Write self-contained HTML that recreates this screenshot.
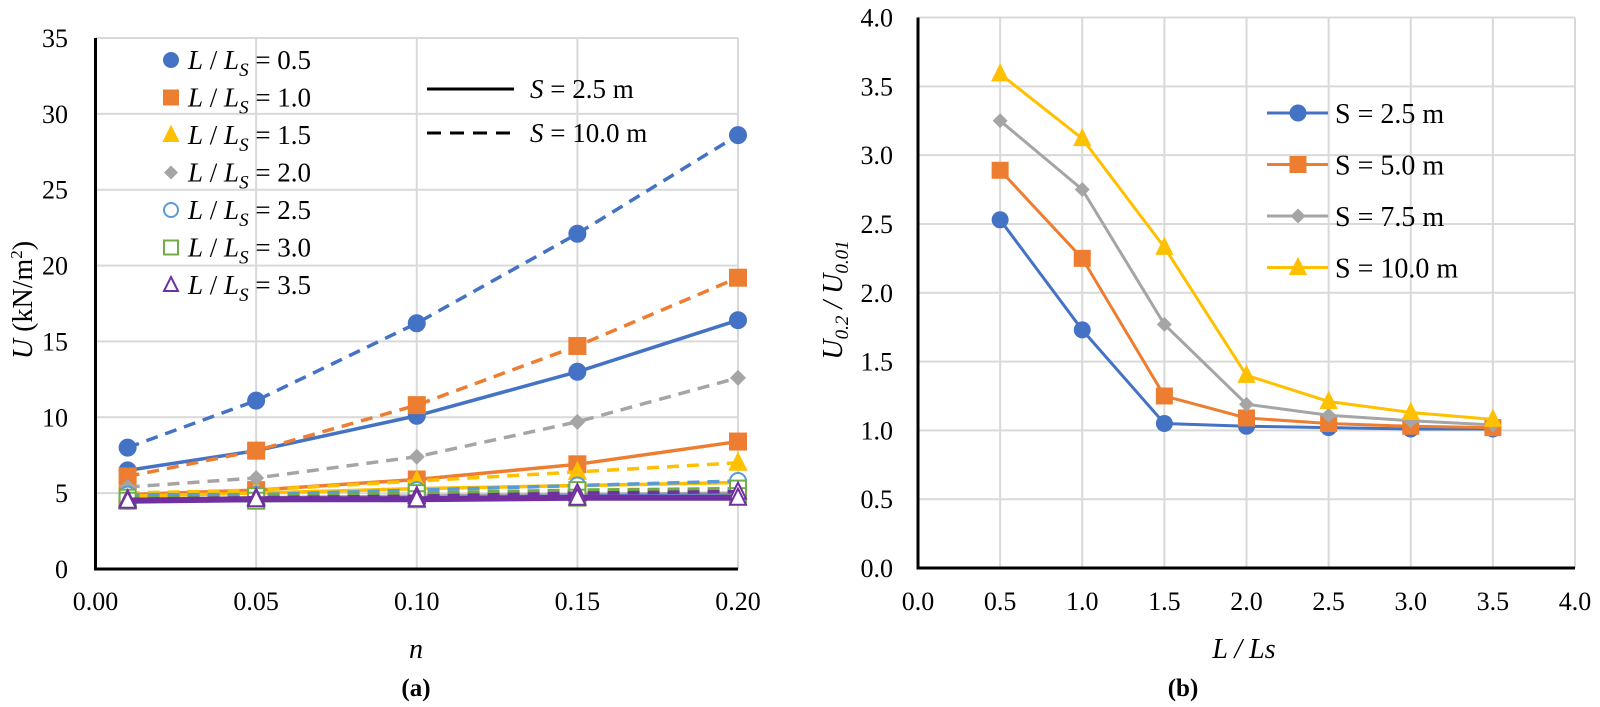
<!DOCTYPE html>
<html><head><meta charset="utf-8"><style>
body{margin:0;background:#fff}
svg,svg text{font-family:"Liberation Serif","Times New Roman",Times,serif;fill:#000}
</style></head><body>
<svg id="c" width="1600" height="702" viewBox="0 0 1600 702" xmlns="http://www.w3.org/2000/svg" font-family="Liberation Serif, Times New Roman, serif"></svg>
<script>
// ---- Chart (a) data ----
const nVals=[0.01,0.05,0.10,0.15,0.20];
const ratioLabels=["0.5","1.0","1.5","2.0","2.5","3.0","3.5"];
const aSolid=[[6.5,7.8,10.1,13.0,16.4],[4.9,5.2,5.9,6.9,8.4],[4.8,5.0,5.3,5.5,5.7],[4.6,4.7,4.8,4.9,5.0],[4.5,4.6,4.7,4.8,4.9],[4.5,4.5,4.6,4.7,4.8],[4.5,4.6,4.6,4.7,4.7]];
const aDashed=[[8.0,11.1,16.2,22.1,28.6],[6.1,7.8,10.8,14.7,19.2],[5.0,5.2,5.8,6.4,7.0],[5.4,6.0,7.4,9.7,12.6],[4.9,4.9,5.2,5.5,5.8],[4.7,4.8,5.0,5.2,5.3],[4.6,4.7,4.8,5.0,5.1]];
const aYTicks=[0,5,10,15,20,25,30,35];
const aXTicks=["0.00","0.05","0.10","0.15","0.20"];
// ---- Chart (b) data ----
const bX=[0.5,1.0,1.5,2.0,2.5,3.0,3.5];
const bNames=["S = 2.5 m","S = 5.0 m","S = 7.5 m","S = 10.0 m"];
const bS1=[2.53,1.73,1.05,1.03,1.02,1.01,1.01];
const bS2=[2.89,2.25,1.25,1.09,1.05,1.03,1.02];
const bS3=[3.25,2.75,1.77,1.19,1.11,1.07,1.04];
const bS4=[3.59,3.12,2.33,1.40,1.21,1.13,1.08];
const bYTicks=["0.0","0.5","1.0","1.5","2.0","2.5","3.0","3.5","4.0"];
const bXTicks=["0.0","0.5","1.0","1.5","2.0","2.5","3.0","3.5","4.0"];

const NS="http://www.w3.org/2000/svg",svg=document.getElementById('c');
const FF="Liberation Serif, Times New Roman, serif";
function el(t,a,p){const e=document.createElementNS(NS,t);for(const k in a)e.setAttribute(k,a[k]);if(t==='text')e.setAttribute('font-family',FF);(p||svg).appendChild(e);return e;}
const colorsA=["#4472c4","#ed7d31","#ffc000","#a5a5a5","#5b9bd5","#70ad47","#7030a0"];
const shapesA=["circle","square","triangle","diamond","ocircle","osquare","otriangle"];
function marker(g,shape,x,y,c,s){
  s=s||7;let e;
  if(shape==="circle"||shape==="ocircle"){e=el('circle',{cx:x,cy:y,r:s,fill:shape==="circle"?c:"#fff",stroke:c,'stroke-width':2},g);}
  else if(shape==="square"||shape==="osquare"){e=el('rect',{x:x-s,y:y-s,width:2*s,height:2*s,fill:shape==="square"?c:"#fff",stroke:c,'stroke-width':2},g);}
  else if(shape==="triangle"||shape==="otriangle"){e=el('polygon',{points:`${x},${y-s-1} ${x+s},${y+s-1} ${x-s},${y+s-1}`,fill:shape==="triangle"?c:"#fff",stroke:c,'stroke-width':2},g);}
  else {e=el('polygon',{points:`${x},${y-s} ${x+s},${y} ${x},${y+s} ${x-s},${y}`,fill:c},g);}
  
  
  return e;
}
function txt(g,x,y,s,o){const t=el('text',Object.assign({x:x,y:y,'font-size':26},o||{}),g);t.textContent=s;return t;}

// ===== Chart (a) =====
const aL=95.5,aR=738,aT=38,aB=569;
const ax=v=>aL+(v/0.20)*(aR-aL), ay=v=>aB-(v/35)*(aB-aT);
const ga=el('g',{});
aYTicks.forEach(v=>{el('line',{x1:aL,x2:aR,y1:ay(v),y2:ay(v),stroke:'#d9d9d9','stroke-width':2},ga);
  const t=txt(ga,68,ay(v)+9,String(v),{'text-anchor':'end'});});
aXTicks.forEach(s=>{const v=parseFloat(s);el('line',{x1:ax(v),x2:ax(v),y1:aT,y2:aB,stroke:'#d9d9d9','stroke-width':2},ga);
  const t=txt(ga,ax(v),610,s,{'text-anchor':'middle'});});
for(let i=0;i<aSolid.length;i++){
  const c=colorsA[i];
  const dp=aDashed[i].map((v,j)=>ax(nVals[j])+','+ay(v)).join(' ');
  const d=el('polyline',{points:dp,fill:'none',stroke:c,'stroke-width':3.5,'stroke-dasharray':'12 8'},ga);
  
  const sp=aSolid[i].map((v,j)=>ax(nVals[j])+','+ay(v)).join(' ');
  const s=el('polyline',{points:sp,fill:'none',stroke:c,'stroke-width':i===6?6:3.5},ga);
  
  aDashed[i].forEach((v,j)=>marker(ga,shapesA[i],ax(nVals[j]),ay(v),c,8));
  aSolid[i].forEach((v,j)=>marker(ga,shapesA[i],ax(nVals[j]),ay(v),c,8));
}
el('line',{x1:aL,x2:aL,y1:aT,y2:aB+1.5,stroke:'#000','stroke-width':3},ga);
el('line',{x1:aL-1.5,x2:aR,y1:aB,y2:aB,stroke:'#000','stroke-width':3},ga);
// legend a
ratioLabels.forEach((r,i)=>{const y=60+i*37.5;marker(ga,shapesA[i],171,y,colorsA[i],7);
  const t=el('text',{x:188,y:y+9,'font-size':27},ga);
  t.innerHTML=`<tspan font-style="italic">L</tspan> / <tspan font-style="italic">L</tspan><tspan font-style="italic" font-size="19" dy="7">S</tspan><tspan dy="-7"> = ${r}</tspan>`;});
el('line',{x1:427,x2:514,y1:89,y2:89,stroke:'#000','stroke-width':3},ga);
el('line',{x1:427,x2:514,y1:133,y2:133,stroke:'#000','stroke-width':3,'stroke-dasharray':'14 9'},ga);
[["2.5",89],["10.0",133]].forEach(([s,y])=>{const t=el('text',{x:530,y:y+9,'font-size':27},ga);
  t.innerHTML=`<tspan font-style="italic">S</tspan> = ${s} m`;});
let t=el('text',{x:0,y:0,'font-size':28,transform:'translate(32,300) rotate(-90)','text-anchor':'middle'},ga);

t.innerHTML='<tspan font-style="italic">U</tspan> (kN/m<tspan font-size="17" dy="-10">2</tspan><tspan dy="10">)</tspan>';
t=txt(ga,416,658,'n',{'text-anchor':'middle','font-style':'italic','font-size':28});
t=txt(ga,416,696,'(a)',{'text-anchor':'middle','font-weight':'bold','font-size':25});

// ===== Chart (b) =====
const bL=918,bR=1575,bT=17.5,bB=568;
const bx=v=>bL+(v/4)*(bR-bL), by=v=>bB-(v/4)*(bB-bT);
const gb=el('g',{});
bYTicks.forEach(s=>{const v=parseFloat(s);el('line',{x1:bL,x2:bR,y1:by(v),y2:by(v),stroke:'#d9d9d9','stroke-width':2},gb);
  const t=txt(gb,893,by(v)+9,s,{'text-anchor':'end'});});
bXTicks.forEach(s=>{const v=parseFloat(s);el('line',{x1:bx(v),x2:bx(v),y1:bT,y2:bB,stroke:'#d9d9d9','stroke-width':2},gb);
  const t=txt(gb,bx(v),610,s,{'text-anchor':'middle'});});
const bSeries=[bS1,bS2,bS3,bS4],bCol=["#4472c4","#ed7d31","#a5a5a5","#ffc000"],bShp=["circle","square","diamond","triangle"];
bSeries.forEach((d,i)=>{const p=el('polyline',{points:d.map((v,j)=>bx(bX[j])+','+by(v)).join(' '),fill:'none',stroke:bCol[i],'stroke-width':3},gb);
  
  d.forEach((v,j)=>marker(gb,bShp[i],bx(bX[j]),by(v),bCol[i],7.5));});
el('line',{x1:bL,x2:bL,y1:bT,y2:bB+1.5,stroke:'#000','stroke-width':3},gb);
el('line',{x1:bL-1.5,x2:bR,y1:bB,y2:bB,stroke:'#000','stroke-width':3},gb);
bNames.forEach((s,i)=>{const y=113+i*51.5;el('line',{x1:1267,x2:1328,y1:y,y2:y,stroke:bCol[i],'stroke-width':3},gb);marker(gb,bShp[i],1298,y,bCol[i],7.5);
  const t=txt(gb,1335,y+10,s,{'font-size':28});});
t=el('text',{x:0,y:0,'font-size':28,transform:'translate(842,300) rotate(-90)','text-anchor':'middle','font-style':'italic'},gb);

t.innerHTML='U<tspan font-size="19" dy="6">0.2</tspan><tspan dy="-6"> / U</tspan><tspan font-size="19" dy="6">0.01</tspan>';
t=txt(gb,1244,658,'L / Ls',{'text-anchor':'middle','font-style':'italic','font-size':28});
t=txt(gb,1183,696,'(b)',{'text-anchor':'middle','font-weight':'bold','font-size':25});
</script>
</body></html>
